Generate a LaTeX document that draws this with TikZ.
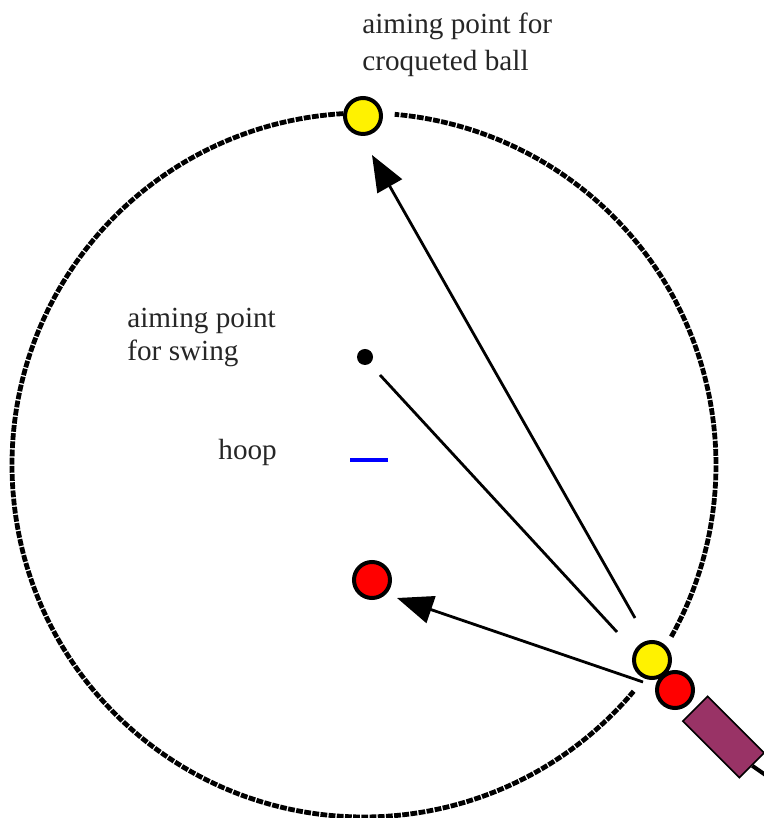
\documentclass[tikz,border=0pt]{standalone}
\usepackage{fontspec}
\setmainfont{Liberation Serif}
\usetikzlibrary{arrows.meta}

\begin{document}
\begin{tikzpicture}[x=0.5pt, y=0.5pt,
    ball/.style={circle, draw=black, line width=2pt, minimum size=18pt, inner sep=0pt},
    shot/.style={line width=1.4pt, -{Triangle[length=18pt, width=14pt]}},
    lbl/.style={inner sep=0pt, align=left, font=\fontsize{14.6}{18.5}\selectfont, text=black!85}]
  \useasboundingbox (0,0) rectangle (764,818);
  % the circle, broken at the two yellow balls
  \coordinate (C) at (364,353);
  \draw[line width=2.4pt, dash pattern=on 3.4pt off 0.7pt]
    ([shift={(93.4:352)}]C) arc (93.4:320:352);
  \draw[line width=2.4pt, dash pattern=on 3.4pt off 0.7pt]
    ([shift={(-29.2:352)}]C) arc (-29.2:85:352);
  % lines of the shot
  \coordinate (s1) at (635,200);
  \coordinate (t1) at (372,663);
  \coordinate (s2) at (643,136);
  \coordinate (t2) at (397,220);
  \coordinate (s3) at (380,443);
  \coordinate (e3) at (617,186);
  \draw[shot] (s1) -- (t1);
  \draw[shot] (s2) -- (t2);
  \draw[line width=1.4pt] (s3) -- (e3);
  % mallet
  \node[draw=black, line width=0.8pt, fill={rgb,255:red,153;green,51;blue,102},
    minimum width=40pt, minimum height=17.5pt, inner sep=0pt, rotate=-45] (mallet) at (723.5,81) {};
  \coordinate (shaft) at (790,26);
  \draw[line width=2pt] (mallet.east) -- (shaft);
  % balls
  \node[ball, fill=yellow] (ytop) at (363,702) {};
  \node[ball, fill=red] (rmid) at (372,238) {};
  \node[ball, fill=red] (rhit) at (675,128) {};
  \node[ball, fill=yellow] (yhit) at (652,158) {};
  \node[circle, fill=black, minimum size=8pt, inner sep=0pt] (swing) at (365,461) {};
  \node[fill=blue, minimum width=19pt, minimum height=2.2pt, inner sep=0pt] (hoop) at (369,358) {};
  % labels
  \node[lbl, anchor=north west] (lcroq) at (362,805) {aiming point for\\croqueted ball};
  \node[lbl, anchor=north west, font=\fontsize{14.6}{16.5}\selectfont] (lswing) at (127,510) {aiming point\\for swing};
  \node[lbl, anchor=base west] (lhoop) at (218,358) {hoop};
\end{tikzpicture}
\end{document}
